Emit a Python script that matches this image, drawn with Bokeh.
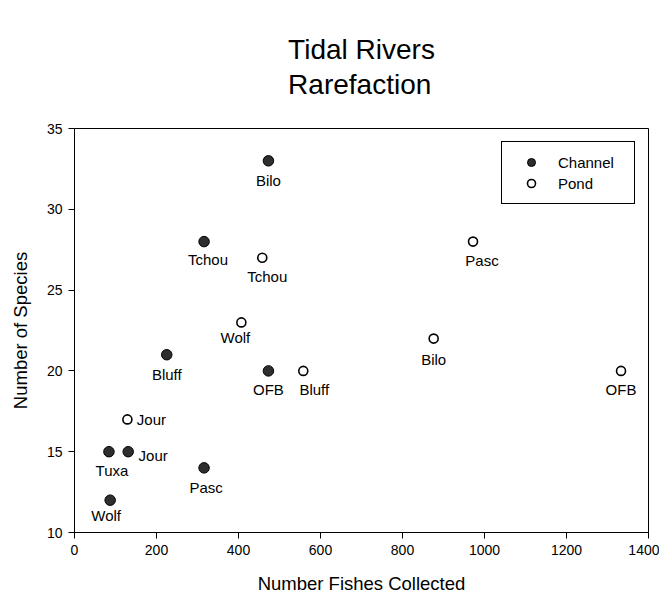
from bokeh.plotting import figure
from bokeh.models import (Range1d, FixedTicker, ColumnDataSource, LabelSet,
                          Legend, LegendItem)
from bokeh.core.properties import value
from bokeh.embed import file_html
from bokeh.resources import INLINE

# ---- data ----
channel_sites = ["Bilo", "Tchou", "Bluff", "OFB", "Jour", "Tuxa", "Pasc", "Wolf"]
channel_fish = [473, 316, 225, 473, 131, 84, 316, 87]
channel_species = [33, 28, 21, 20, 15, 15, 14, 12]

pond_sites = ["Tchou", "Wolf", "Bluff", "Jour", "Pasc", "Bilo", "OFB"]
pond_fish = [458, 407, 558, 129, 972, 876, 1333]
pond_species = [27, 23, 20, 17, 28, 22, 20]

x_ticks = [0, 200, 400, 600, 800, 1000, 1200, 1400]
y_ticks = [10, 15, 20, 25, 30, 35]

# label offsets (screen px) - layout only
channel_dx = [0, 4, 0, 0, 25, 3, 2, -4]
channel_dy = [25, 23, 25, 24, 9, 24, 25, 21]
pond_dx = [5, -6, 11, 24, 9, 0, 0]
pond_dy = [24, 21, 24, 6, 24, 26, 24]

FONT = "Liberation Sans"

p = figure(frame_width=574, frame_height=404,
           min_border_left=74, min_border_right=11,
           min_border_top=128, min_border_bottom=58,
           x_range=Range1d(0, 1400), y_range=Range1d(10, 35),
           output_backend="svg", toolbar_location=None,
           title="Tidal Rivers\nRarefaction")

p.title.align = "center"
p.title.text_font = FONT
p.title.text_font_size = "28px"
p.title.text_font_style = "normal"
p.title.text_color = "black"
p.title.text_line_height = 1.15
p.title.standoff = 56

p.xgrid.visible = False
p.ygrid.visible = False
p.outline_line_color = "black"
p.outline_line_alpha = 1
p.outline_line_width = 1
p.background_fill_color = "white"
p.border_fill_color = "white"

for ax, ticks, lab in ((p.xaxis[0], x_ticks, "Number Fishes Collected"),
                       (p.yaxis[0], y_ticks, "Number of Species")):
    ax.ticker = FixedTicker(ticks=ticks)
    ax.axis_label = lab
    ax.axis_label_text_font = FONT
    ax.axis_label_text_font_size = "18.5px"
    ax.axis_label_text_font_style = "normal"
    ax.axis_label_text_color = "black"
    ax.major_label_text_font = FONT
    ax.major_label_text_font_size = "14px"
    ax.major_label_text_color = "black"
    ax.major_label_standoff = 6
    ax.major_tick_out = 6
    ax.major_tick_in = 0
    ax.minor_tick_out = 0
    ax.minor_tick_in = 0
    ax.axis_line_color = "black"
    ax.major_tick_line_color = "black"

p.xaxis.axis_label_standoff = 15
p.yaxis.axis_label_standoff = 13

ch_src = ColumnDataSource(dict(x=channel_fish, y=channel_species, name=channel_sites,
                               dx=channel_dx, dy=[-d for d in channel_dy]))
pd_src = ColumnDataSource(dict(x=pond_fish, y=pond_species, name=pond_sites,
                               dx=pond_dx, dy=[-d for d in pond_dy]))

r_ch = p.scatter("x", "y", source=ch_src, size=10.5, marker="circle",
                 fill_color="#2e2e2e", line_color="black", line_width=1)
r_pd = p.scatter("x", "y", source=pd_src, size=9, marker="circle",
                 fill_color="white", line_color="black", line_width=1.6)

for src in (ch_src, pd_src):
    p.add_layout(LabelSet(x="x", y="y", text="name", source=src,
                          x_offset="dx", y_offset="dy",
                          text_align="center", text_baseline="alphabetic",
                          text_font=value(FONT), text_font_size="15px",
                          text_color="black"))

legend = Legend(items=[LegendItem(label="Channel", renderers=[r_ch]),
                       LegendItem(label="Pond", renderers=[r_pd])],
                location="top_right", margin=13, padding=10, spacing=1,
                glyph_width=38, glyph_height=20, label_standoff=8,
                label_width=66,
                label_text_font=FONT, label_text_font_size="15px",
                label_text_color="black",
                border_line_color="black", border_line_width=1,
                border_line_alpha=1, background_fill_alpha=1)
p.add_layout(legend)

open("out.html", "w").write(file_html(p, INLINE))
